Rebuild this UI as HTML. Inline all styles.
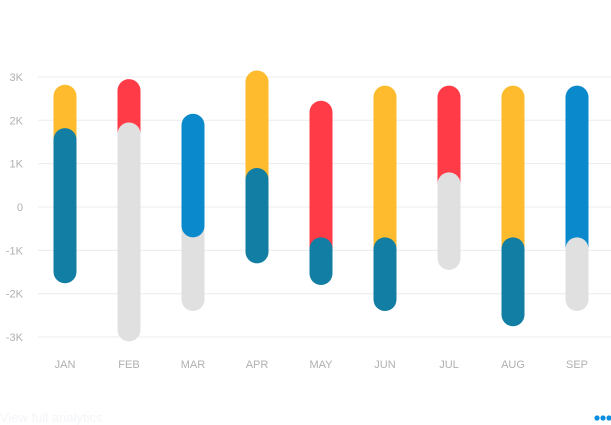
<!DOCTYPE html>
<html><head><meta charset="utf-8"><style>
body{margin:0;background:#fff;font-family:"Liberation Sans",sans-serif}
svg{display:block}
</style></head><body>
<svg width="611" height="425">
<g id="grid"></g><g id="bars"></g><g id="xlabels"></g>
<text x="0" y="422" font-size="13" fill="#f3f5f8">View full analytics</text>
<g fill="#0a8ee0">
<circle cx="597" cy="418" r="2.6"/><circle cx="603" cy="418" r="2.6"/><circle cx="609" cy="418" r="2.6"/></g>
</svg>
<script>
const categories=["JAN","FEB","MAR","APR","MAY","JUN","JUL","AUG","SEP"];
const topValues=[2.82,2.95,2.15,3.15,2.45,2.8,2.8,2.8,2.8];
const midValues=[1.82,1.95,-0.7,0.9,-0.7,-0.7,0.8,-0.7,-0.7];
const bottomValues=[-1.76,-3.1,-2.4,-1.3,-1.8,-2.4,-1.45,-2.75,-2.4];
const topOnTop=[false,false,true,false,false,false,false,false,false];
const topColors=["#ffbb2e","#ff3b47","#0a89cc","#ffbb2e","#ff3b47","#ffbb2e","#ff3b47","#ffbb2e","#0a89cc"];
const bottomColors=["#127ea3","#e0e0e0","#e0e0e0","#127ea3","#127ea3","#127ea3","#e0e0e0","#127ea3","#e0e0e0"];
const ticks=[3,2,1,0,-1,-2,-3];
const tickLabels=["3K","2K","1K","0","-1K","-2K","-3K"];
const NS="http://www.w3.org/2000/svg";
const y=v=>207-v*43.35;
const x=i=>33+64*i+32;
const W=23;
function mk(t,a,p){const e=document.createElementNS(NS,t);for(const k in a)e.setAttribute(k,a[k]);p.appendChild(e);return e;}
const grid=document.getElementById('grid');
ticks.forEach((t,i)=>{
 const l=mk('line',{x1:38,x2:611,y1:y(t),y2:y(t),stroke:'#ececec','stroke-width':1},grid);
 
 
 const tx=mk('text',{x:23,y:y(t)+4,'text-anchor':'end','font-size':11,fill:'#b0b0b0'},grid);
 tx.textContent=tickLabels[i];
 
 
});
const bars=document.getElementById('bars'),xl=document.getElementById('xlabels');
categories.forEach((c,i)=>{
 const cx=x(i);
 let a,b;
 if(topOnTop[i]){
  b=mk('rect',{x:cx-W/2,y:y(midValues[i])-W,width:W,height:y(bottomValues[i])-y(midValues[i])+W,rx:W/2,fill:bottomColors[i]},bars);
  a=mk('rect',{x:cx-W/2,y:y(topValues[i]),width:W,height:y(midValues[i])-y(topValues[i]),rx:W/2,fill:topColors[i]},bars);
 }else{
  a=mk('rect',{x:cx-W/2,y:y(topValues[i]),width:W,height:y(midValues[i])-y(topValues[i])+W,rx:W/2,fill:topColors[i]},bars);
  b=mk('rect',{x:cx-W/2,y:y(midValues[i]),width:W,height:y(bottomValues[i])-y(midValues[i]),rx:W/2,fill:bottomColors[i]},bars);
 }
 
 
 
 
 const t=mk('text',{x:cx,y:368,'text-anchor':'middle','font-size':11,fill:'#b0b0b0'},xl);
 t.textContent=c;
 
 
});
</script>
</body></html>
